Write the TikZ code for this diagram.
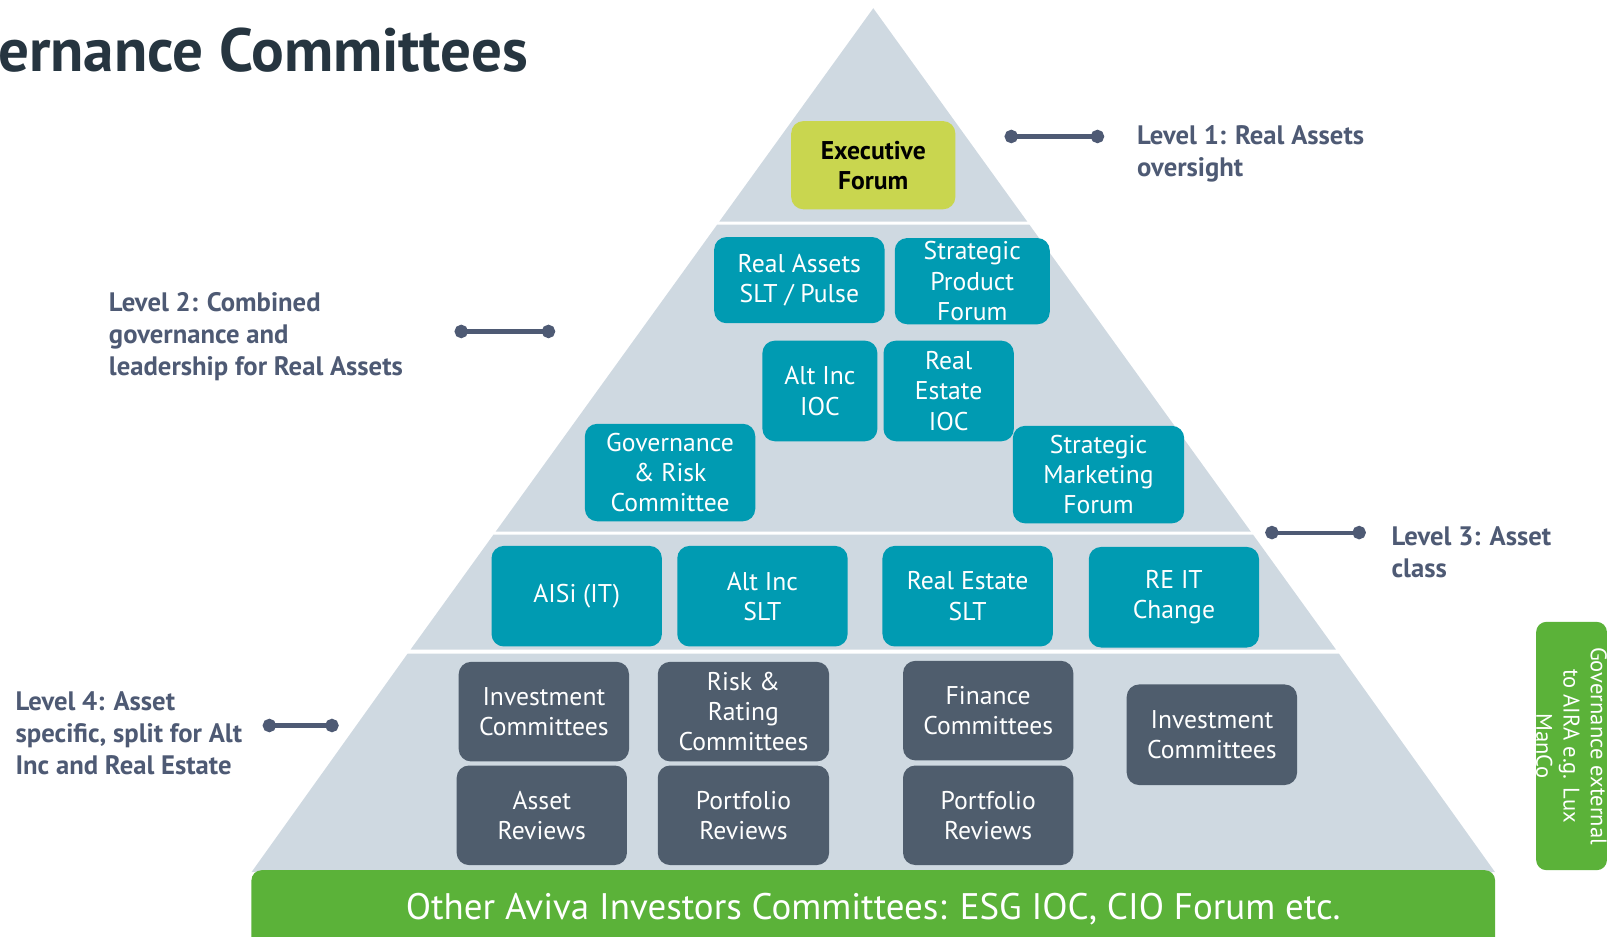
\documentclass[tikz,border=0pt]{standalone}
\usepackage{fontspec}
\setmainfont{PT Sans}
\usetikzlibrary{arrows.meta}

\definecolor{pyramid}{HTML}{CFD9E1}
\definecolor{tealbox}{HTML}{009BB2}
\definecolor{slatebox}{HTML}{4F5D6D}
\definecolor{lime}{HTML}{C9D64F}
\definecolor{grass}{HTML}{5BB239}
\definecolor{ink}{HTML}{263540}
\definecolor{levelgrey}{HTML}{4E5A74}

\begin{document}
\begin{tikzpicture}[x=1pt, y=-1pt,
    box/.style={rounded corners=12pt, inner sep=0pt, align=center, text=white,
      font=\fontsize{25}{29.5}\selectfont},
    teal/.style={box, fill=tealbox},
    slate/.style={box, fill=slatebox},
    level/.style={anchor=west, align=left, inner sep=0pt, text=levelgrey,
      font=\bfseries\fontsize{26}{31}\selectfont},
    dumbbell/.style={line width=4pt, draw=levelgrey,
      {Circle[length=13pt]}-{Circle[length=13pt]}}]

    \useasboundingbox (0,0) rectangle (1568,913);

    % Title
    \node [anchor=base west, inner sep=0pt, text=ink,
        font=\bfseries\fontsize{59.5}{64}\selectfont] (title) at (-2,70) {ernance Committees};

    % Pyramid bands
    \fill [pyramid] (851,8) -- (1001.1,216) -- (700.9,216) -- cycle;
    \fill [pyramid] (698.8,219) -- (1003.2,219) -- (1218.9,518) -- (483.1,518) -- cycle;
    \fill [pyramid] (480.9,521) -- (1221.1,521) -- (1301.9,633) -- (400.1,633) -- cycle;
    \fill [pyramid] (397.2,637) -- (1304.8,637) -- (1457,850) -- (245,850) -- cycle;

    % Level 1
    \node [box, fill=lime, text=black, font=\bfseries\fontsize{25}{29}\selectfont,
        minimum width=160pt, minimum height=86pt] (exec) at (851,161) {Executive\\Forum};
    \coordinate (l1a) at (979,133);
    \coordinate (l1b) at (1076,133);
    \draw [dumbbell] (l1a) -- (l1b);
    \node [level] (lvl1) at (1108,150) {Level 1: Real Assets\\oversight};

    % Level 2
    \node [teal, minimum width=166pt, minimum height=84pt] (raslt) at (779,273) {Real Assets\\SLT / Pulse};
    \node [teal, minimum width=151pt, minimum height=84pt] (spf) at (947.5,274) {Strategic\\Product\\Forum};
    \node [teal, minimum width=112pt, minimum height=98pt] (aiioc) at (799,381) {Alt Inc\\IOC};
    \node [teal, minimum width=127pt, minimum height=98pt] (reioc) at (924.5,381) {Real\\Estate\\IOC};
    \node [teal, minimum width=166pt, minimum height=95pt] (grc) at (653,460.5) {Governance\\\& Risk\\Committee};
    \node [teal, minimum width=167pt, minimum height=95pt] (smf) at (1070.5,462.5) {Strategic\\Marketing\\Forum};
    \coordinate (l2a) at (443,323);
    \coordinate (l2b) at (541,323);
    \draw [dumbbell] (l2a) -- (l2b);
    \node [level] (lvl2) at (106,328) {Level 2: Combined\\governance and\\leadership for Real Assets};

    % Level 3
    \node [teal, minimum width=166pt, minimum height=98pt] (aisi) at (562,581) {AISi (IT)};
    \node [teal, minimum width=166pt, minimum height=98pt] (aislt) at (743,581) {Alt Inc\\SLT};
    \node [teal, minimum width=166pt, minimum height=98pt] (reslt) at (943,581) {Real Estate\\SLT};
    \node [teal, minimum width=166pt, minimum height=98pt] (reit) at (1144,582) {RE IT\\Change};
    \coordinate (l3a) at (1233,519);
    \coordinate (l3b) at (1331,519);
    \draw [dumbbell] (l3a) -- (l3b);
    \node [level] (lvl3) at (1356,538.5) {Level 3: Asset\\class};

    % Level 4
    \node [slate, minimum width=166pt, minimum height=97pt] (invc) at (530,693.5) {Investment\\Committees};
    \node [slate, minimum width=166pt, minimum height=97pt] (assr) at (528,794.5) {Asset\\Reviews};
    \node [slate, minimum width=167pt, minimum height=97pt] (riskc) at (724.5,693.5) {Risk \&\\Rating\\Committees};
    \node [slate, minimum width=167pt, minimum height=97pt] (portr) at (724.5,794.5) {Portfolio\\Reviews};
    \node [slate, minimum width=166pt, minimum height=97pt] (finc) at (963,692.5) {Finance\\Committees};
    \node [slate, minimum width=166pt, minimum height=97pt] (portre) at (963,794.5) {Portfolio\\Reviews};
    \node [slate, minimum width=166pt, minimum height=98pt] (invre) at (1181,716) {Investment\\Committees};
    \coordinate (l4a) at (256,707);
    \coordinate (l4b) at (330,707);
    \draw [dumbbell] (l4a) -- (l4b);
    \node [level] (lvl4) at (15,714.5) {Level 4: Asset\\specific, split for Alt\\Inc and Real Estate};

    % Base bar and side box
    \node [fill=grass, rounded corners=10pt, inner sep=0pt, minimum width=1212pt, minimum height=75pt,
        text=white, font=\fontsize{36}{40}\selectfont] (others) at (851,885.5)
        {Other Aviva Investors Committees: ESG IOC, CIO Forum etc.};
    \node [fill=grass, rounded corners=10pt, inner sep=0pt, minimum width=69pt,
        minimum height=242pt] (external) at (1531.5,727) {};
    \node [rotate=-90, align=center, inner sep=0pt, text=white,
        font=\fontsize{22}{26.5}\selectfont] (extlabel) at (external.center)
        {Governance external\\to AIRA e.g. Lux\\ManCo};

\end{tikzpicture}
\end{document}
